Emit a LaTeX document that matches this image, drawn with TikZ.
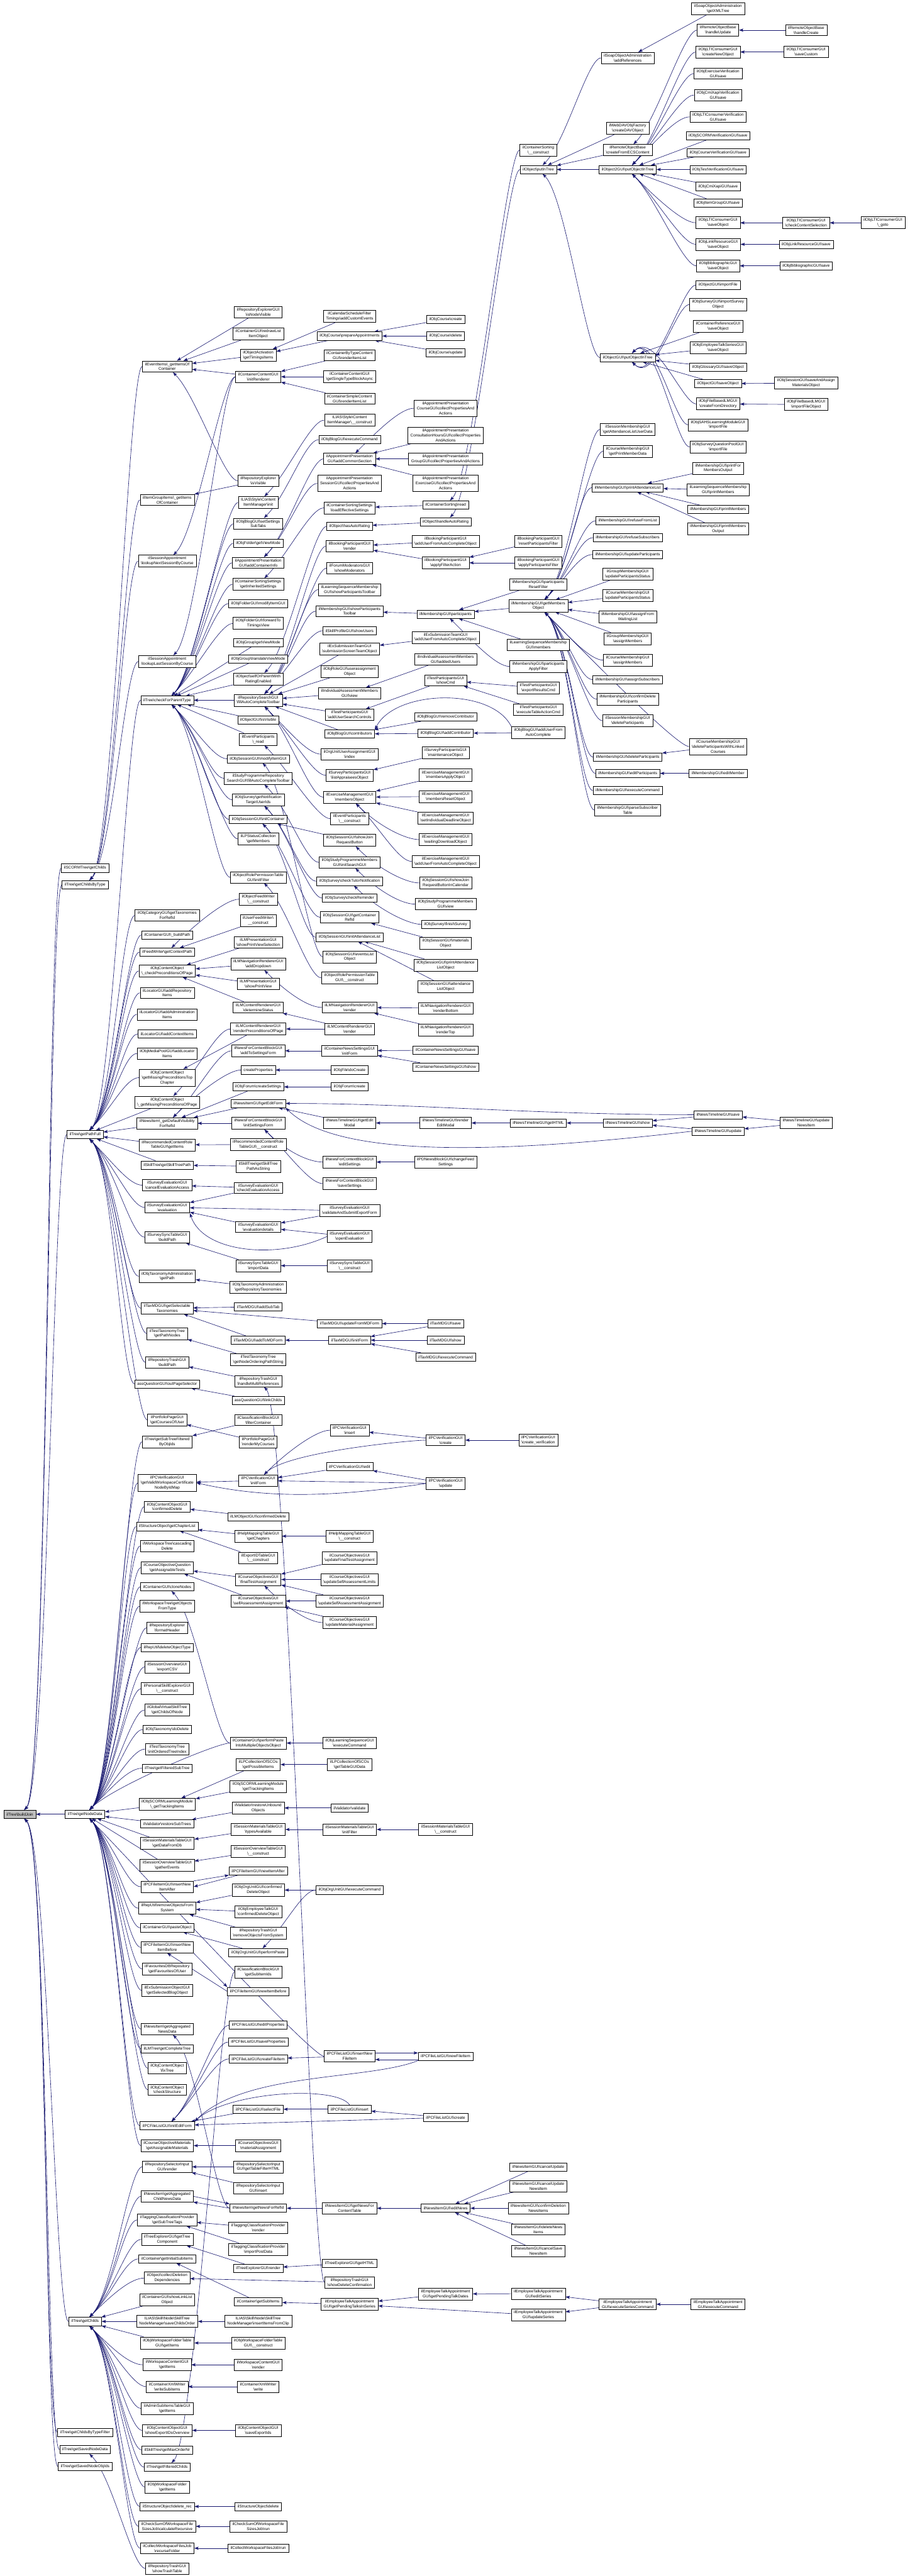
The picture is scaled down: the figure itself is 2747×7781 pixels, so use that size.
\documentclass[tikz,border=0pt]{standalone}
\usepackage{fontspec}
\setmainfont{Liberation Sans}
\usetikzlibrary{arrows.meta, backgrounds}
\definecolor{edgeblue}{RGB}{25,25,112}
\newcommand{\scp}{\textbackslash}

\begin{document}
\begin{tikzpicture}[
    x=0.25pt, y=0.25pt,
    font=\fontsize{3}{3.75}\selectfont,
    fn/.style  ={draw=black, fill=white, line width=0.3pt, align=center,
                 inner xsep=2pt, inner ysep=1.25pt, minimum height=6.25pt},
    root/.style={fn, fill=black!25},
    call/.style={draw=edgeblue, line width=0.3pt,
                 -{Stealth[length=3.2pt, width=2.3pt, inset=0.6pt]}},
    godown/.style={call, to path={(\tikztostart.west) .. controls
        ([shift={(-40,0)}]\tikztostart.west) and
        ([shift={(70,70)}]\tikztotarget.45) .. (\tikztotarget.45)}},
    goup/.style={call, to path={(\tikztostart.west) .. controls
        ([shift={(-40,0)}]\tikztostart.west) and
        ([shift={(70,-70)}]\tikztotarget.-45) .. (\tikztotarget.-45)}}
  ]
  \useasboundingbox (0,0) rectangle (2747,-7781);

  % ---- column 1 and 2: ilTree ----------------------------------------------
  \node[root] (buildJoin)      at (60,-5480)  {ilTree\scp buildJoin};
  \node[fn] (scormChilds)      at (257,-2622) {ilSCORMTree\scp getChilds};
  \node[fn] (childsByType)     at (257,-2672) {ilTree\scp getChildsByType};
  \node[fn] (pathFull)         at (257,-3427) {ilTree\scp getPathFull};
  \node[fn] (nodeData)         at (257,-5480) {ilTree\scp getNodeData};
  \node[fn] (getChilds)        at (257,-7012) {ilTree\scp getChilds};
  \node[fn] (childsByFilter)   at (257,-7347) {ilTree\scp getChildsByTypeFilter};
  \node[fn] (savedData)        at (257,-7399) {ilTree\scp getSavedNodeData};
  \node[fn] (savedObjIds)      at (257,-7450) {ilTree\scp getSavedNodeObjIds};

  % ---- column 3 ------------------------------------------------------------
  \node[fn] (eventItems)   at (505,-1107) {ilEventItems\scp \_getItemsOf\\Container};
  \node[fn] (itgrItems)    at (505,-1510) {ilItemGroupItems\scp \_getItems\\OfContainer};
  \node[fn] (sessNext)     at (505,-1695) {ilSessionAppointment\\\scp lookupNextSessionByCourse};
  \node[fn] (sessLast)     at (505,-1998) {ilSessionAppointment\\\scp lookupLastSessionByCourse};
  \node[fn] (checkParent)  at (505,-2115) {ilTree\scp checkForParentType};
  \node[fn] (catTax)       at (505,-2765) {ilObjCategoryGUI\scp getTaxonomies\\ForRefId};
  \node[fn] (buildPath)    at (505,-2824) {ilContainerGUI\scp \_buildPath};
  \node[fn] (feedPath)     at (505,-2876) {ilFeedWriter\scp getContextPath};
  \node[fn] (checkPrecond) at (505,-2933) {ilObjContentObject\\\scp \_checkPreconditionsOfPage};
  \node[fn] (locRepo)      at (505,-2999) {ilLocatorGUI\scp addRepository\\Items};
  \node[fn] (locAdmin)     at (505,-3064) {ilLocatorGUI\scp addAdministration\\Items};
  \node[fn] (locContext)   at (505,-3123) {ilLocatorGUI\scp addContextItems};
  \node[fn] (mepLocator)   at (505,-3182) {ilObjMediaPoolGUI\scp addLocator\\Items};
  \node[fn] (missingTop)   at (505,-3255) {ilObjContentObject\\\scp getMissingPreconditionsTop\\Chapter};
  \node[fn] (missingPage)  at (505,-3329) {ilObjContentObject\\\scp \_getMissingPreconditionsOfPage};
  \node[fn] (defaultVis)   at (505,-3393) {ilNewsItem\scp \_getDefaultVisibility\\ForRefId};
  \node[fn] (recItems)     at (505,-3458) {ilRecommendedContentRole\\TableGUI\scp getItems};
  \node[fn] (skillPath)    at (505,-3519) {ilSkillTree\scp getSkillTreePath};
  \node[fn] (evalCancel)   at (505,-3580) {ilSurveyEvaluationGUI\\\scp cancelEvaluationAccess};
  \node[fn] (evalEval)     at (505,-3647) {ilSurveyEvaluationGUI\\\scp evaluation};
  \node[fn] (syncPath)     at (505,-3737) {ilSurveySyncTableGUI\\\scp buildPath};
  \node[fn] (taxAdmPath)   at (505,-3855) {ilObjTaxonomyAdministration\\\scp getPath};
  \node[fn] (taxSelectable) at (505,-3952) {ilTaxMDGUI\scp getSelectable\\Taxonomies};
  \node[fn] (tstTaxPath)   at (505,-4028) {ilTestTaxonomyTree\\\scp getPathNodes};
  \node[fn] (trashPath)    at (505,-4115) {ilRepositoryTrashGUI\\\scp buildPath};
  \node[fn] (qstPageSel)   at (505,-4180) {assQuestionGUI\scp outPageSelector};
  \node[fn] (portCourses)  at (505,-4289) {ilPortfolioPageGUI\\\scp getCoursesOfUser};
  \node[fn] (subTreeFilt)  at (505,-4355) {ilTree\scp getSubTreeFiltered\\ByObjIds};
  \node[fn] (pcvValid)     at (505,-4479) {ilPCVerificationGUI\\\scp getValidWorkspaceCertificate\\NodeByIdMap};
  \node[fn] (lmConfDel)    at (505,-4551) {ilObjContentObjectGUI\\\scp confirmedDelete};
  \node[fn] (chapList)     at (505,-4611) {ilStructureObject\scp getChapterList};
  \node[fn] (wspCascade)   at (505,-4670) {ilWorkspaceTree\scp cascading\\Delete};
  \node[fn] (assignTests)  at (505,-4735) {ilCourseObjectiveQuestion\\\scp getAssignableTests};
  \node[fn] (cloneNodes)   at (505,-4793) {ilContainerGUI\scp cloneNodes};
  \node[fn] (wspObjects)   at (505,-4852) {ilWorkspaceTree\scp getObjects\\FromType};
  \node[fn] (explHeader)   at (505,-4917) {ilRepositoryExplorer\\\scp formatHeader};
  \node[fn] (delObjType)   at (505,-4976) {ilRepUtil\scp deleteObjectType};
  \node[fn] (sessExportCSV) at (505,-5035) {ilSessionOverviewGUI\\\scp exportCSV};
  \node[fn] (pskillCons)   at (505,-5101) {ilPersonalSkillExplorerGUI\\\scp \_\_construct};
  \node[fn] (vskillChilds) at (505,-5165) {ilGlobalVirtualSkillTree\\\scp getChildsOfNode};
  \node[fn] (taxDelete)    at (505,-5224) {ilObjTaxonomy\scp doDelete};
  \node[fn] (tstTaxIndex)  at (505,-5283) {ilTestTaxonomyTree\\\scp initOrderedTreeIndex};
  \node[fn] (filtSubTree)  at (505,-5341) {ilTree\scp getFilteredSubTree};
  \node[fn] (scormTrack)   at (505,-5450) {ilObjSCORMLearningModule\\\scp \_getTrackingItems};
  \node[fn] (restoreSub)   at (505,-5509) {ilValidator\scp restoreSubTrees};
  \node[fn] (matData)      at (505,-5568) {ilSessionMaterialsTableGUI\\\scp getDataFromDb};
  \node[fn] (ovGather)     at (505,-5634) {ilSessionOverviewTableGUI\\\scp gatherEvents};
  \node[fn] (insAfter)     at (505,-5699) {ilPCFileItemGUI\scp insertNew\\ItemAfter};
  \node[fn] (removeSys)    at (505,-5764) {ilRepUtil\scp removeObjectsFrom\\System};
  \node[fn] (pasteObj)     at (505,-5823) {ilContainerGUI\scp pasteObject};
  \node[fn] (insBefore)    at (505,-5882) {ilPCFileItemGUI\scp insertNew\\ItemBefore};
  \node[fn] (favourites)   at (505,-5947) {ilFavouritesDBRepository\\\scp getFavouritesOfUser};
  \node[fn] (excBlog)      at (505,-6012) {ilExSubmissionObjectGUI\\\scp getSelectedBlogObject};
  \node[fn] (aggrNews)     at (505,-6129) {ilNewsItem\scp getAggregated\\NewsData};
  \node[fn] (lmComplete)   at (505,-6188) {ilLMTree\scp getCompleteTree};
  \node[fn] (fixTree)      at (505,-6247) {ilObjContentObject\\\scp fixTree};
  \node[fn] (checkStruct)  at (505,-6312) {ilObjContentObject\\\scp checkStructure};
  \node[fn] (flInitEdit)   at (505,-6421) {ilPCFileListGUI\scp initEditForm};
  \node[fn] (objMaterials) at (505,-6481) {ilCourseObjectiveMaterials\\\scp getAssignableMaterials};
  \node[fn] (selRender)    at (505,-6545) {ilRepositorySelectorInput\\GUI\scp render};
  \node[fn] (aggrChild)    at (505,-6634) {ilNewsItem\scp getAggregated\\ChildNewsData};
  \node[fn] (tagSubTree)   at (505,-6705) {ilTaggingClassificationProvider\\\scp getSubTreeTags};
  \node[fn] (explTree)     at (505,-6764) {ilTreeExplorerGUI\scp getTree\\Component};
  \node[fn] (initSub)      at (505,-6823) {ilContainer\scp getInitialSubitems};
  \node[fn] (collectDel)   at (505,-6881) {ilObject\scp collectDeletion\\Dependencies};
  \node[fn] (linkList)     at (505,-6946) {ilContainerGUI\scp showLinkList\\Object};
  \node[fn] (saveChildsOrder) at (505,-7012) {ILIAS\scp Skill\scp Node\scp SkillTree\\NodeManager\scp saveChildsOrder};
  \node[fn] (wfolderItems) at (505,-7077) {ilObjWorkspaceFolderTable\\GUI\scp getItems};
  \node[fn] (wcontItems)   at (505,-7143) {ilWorkspaceContentGUI\\\scp getItems};
  \node[fn] (xmlSubitems)  at (505,-7209) {ilContainerXmlWriter\\\scp writeSubitems};
  \node[fn] (adminItems)   at (505,-7275) {ilAdminSubItemsTableGUI\\\scp getItems};
  \node[fn] (exportIDs)    at (505,-7341) {ilObjContentObjectGUI\\\scp showExportIDsOverview};
  \node[fn] (maxOrder)     at (505,-7400) {ilSkillTree\scp getMaxOrderNr};
  \node[fn] (filtChilds)   at (505,-7452) {ilTree\scp getFilteredChilds};
  \node[fn] (wfolderGet)   at (505,-7512) {ilObjWorkspaceFolder\\\scp getItems};
  \node[fn] (deleteRec)    at (505,-7571) {ilStructureObject\scp delete\_rec};
  \node[fn] (checksumCalc) at (505,-7631) {ilCheckSumOfWorkspaceFile\\SizesJob\scp calculateRecursive};
  \node[fn] (recurseFolder) at (505,-7697) {ilCollectWorkspaceFilesJob\\\scp recurseFolder};
  \node[fn] (trashTable)   at (505,-7758) {ilRepositoryTrashGUI\\\scp showTrashTable};

  % ---- column 4 ------------------------------------------------------------
  \node[fn] (explNodeVis)  at (780,-943)  {ilRepositoryExplorerGUI\\\scp isNodeVisible};
  \node[fn] (redrawItem)   at (780,-1009) {ilContainerGUI\scp redrawList\\ItemObject};
  \node[fn] (timingsItems) at (780,-1073) {ilObjectActivation\\\scp getTimingsItems};
  \node[fn] (initRenderer) at (780,-1138) {ilContainerContentGUI\\\scp initRenderer};
  \node[fn] (explIsVis)    at (780,-1452) {ilRepositoryExplorer\\\scp isVisible};
  \node[fn] (styleItemInit) at (780,-1518) {ILIAS\scp Style\scp Content\\ItemManager\scp init};
  \node[fn] (blogSubTabs)  at (780,-1582) {ilObjBlogGUI\scp setSettings\\SubTabs};
  \node[fn] (fldViewMode)  at (780,-1641) {ilObjFolder\scp getViewMode};
  \node[fn] (appContainer) at (780,-1700) {ilAppointmentPresentation\\GUI\scp addContainerInfo};
  \node[fn] (inherited)    at (780,-1765) {ilContainerSortingSettings\\\scp getInheritedSettings};
  \node[fn] (fldModify)    at (780,-1823) {ilObjFolderGUI\scp modifyItemGUI};
  \node[fn] (fldForward)   at (780,-1883) {ilObjFolderGUI\scp forwardTo\\TimingsView};
  \node[fn] (grpViewMode)  at (780,-1941) {ilObjGroup\scp getViewMode};
  \node[fn] (grpTranslate) at (780,-1991) {ilObjGroup\scp translateViewMode};
  \node[fn] (selfOrParent) at (780,-2051) {ilObject\scp selfOrParentWith\\RatingEnabled};
  \node[fn] (searchToolbar) at (780,-2115) {ilRepositorySearchGUI\\\scp fillAutoCompleteToolbar};
  \node[fn] (objIsVisible) at (780,-2175) {ilObjectGUI\scp isVisible};
  \node[fn] (evRead)       at (780,-2233) {ilEventParticipants\\\scp \_read};
  \node[fn] (sessModify)   at (780,-2292) {ilObjSessionGUI\scp modifyItemGUI};
  \node[fn] (prgSearch)    at (780,-2351) {ilStudyProgrammeRepository\\SearchGUI\scp fillAutoCompleteToolbar};
  \node[fn] (svyNotif)     at (780,-2416) {ilObjSurvey\scp getNotification\\TargetUserIds};
  \node[fn] (sessInitCont) at (780,-2475) {ilObjSessionGUI\scp initContainer};
  \node[fn] (lpMembers)    at (780,-2534) {ilLPStatusCollection\\\scp getMembers};
  \node[fn] (permFilter)   at (780,-2650) {ilObjectRolePermissionTable\\GUI\scp initFilter};
  \node[fn] (feedCons)     at (780,-2716) {ilObjectFeedWriter\\\scp \_\_construct};
  \node[fn] (userFeed)     at (780,-2781) {ilUserFeedWriter\scp \\\_\_construct};
  \node[fn] (lmPrintSel)   at (780,-2846) {ilLMPresentationGUI\\\scp showPrintViewSelection};
  \node[fn] (navDropdown)  at (780,-2912) {ilLMNavigationRendererGUI\\\scp addDropdown};
  \node[fn] (lmPrintView)  at (780,-2972) {ilLMPresentationGUI\\\scp showPrintView};
  \node[fn] (determineStatus) at (780,-3043) {ilLMContentRendererGUI\\\scp determineStatus};
  \node[fn] (renderPrecond) at (780,-3108) {ilLMContentRendererGUI\\\scp renderPreconditionsOfPage};
  \node[fn] (newsAddSettings) at (780,-3174) {ilNewsForContextBlockGUI\\\scp addToSettingsForm};
  \node[fn] (createProps)  at (780,-3232) {createProperties};
  \node[fn] (frmCreateSet) at (780,-3283) {ilObjForum\scp createSettings};
  \node[fn] (newsEditForm) at (780,-3333) {ilNewsItemGUI\scp getEditForm};
  \node[fn] (newsInitSettings) at (780,-3393) {ilNewsForContextBlockGUI\\\scp initSettingsForm};
  \node[fn] (recCons)      at (780,-3457) {ilRecommendedContentRole\\TableGUI\scp \_\_construct};
  \node[fn] (skillPathStr) at (780,-3523) {ilSkillTree\scp getSkillTree\\PathAsString};
  \node[fn] (evalCheck)    at (780,-3588) {ilSurveyEvaluationGUI\\\scp checkEvaluationAccess};
  \node[fn] (evalDetails)  at (780,-3706) {ilSurveyEvaluationGUI\\\scp evaluationdetails};
  \node[fn] (syncImport)   at (780,-3823) {ilSurveySyncTableGUI\\\scp importData};
  \node[fn] (taxAdmRepo)   at (780,-3888) {ilObjTaxonomyAdministration\\\scp getRepositoryTaxonomies};
  \node[fn] (taxSubTab)    at (780,-3947) {ilTaxMDGUI\scp addSubTab};
  \node[fn] (taxAddMD)     at (780,-4048) {ilTaxMDGUI\scp addToMDForm};
  \node[fn] (tstTaxOrder)  at (780,-4107) {ilTestTaxonomyTree\\\scp getNodeOrderingPathString};
  \node[fn] (trashMulti)   at (780,-4172) {ilRepositoryTrashGUI\\\scp handleMultiReferences};
  \node[fn] (qstLinkChilds) at (780,-4230) {assQuestionGUI\scp linkChilds};
  \node[fn] (classFilter)  at (780,-4289) {ilClassificationBlockGUI\\\scp filterContainer};
  \node[fn] (portRender)   at (780,-4355) {ilPortfolioPageGUI\\\scp renderMyCourses};
  \node[fn] (pcvInitForm)  at (780,-4472) {ilPCVerificationGUI\\\scp initForm};
  \node[fn] (lmObjConfDel) at (780,-4582) {ilLMObjectGUI\scp confirmedDelete};
  \node[fn] (helpChapters) at (780,-4640) {ilHelpMappingTableGUI\\\scp getChapters};
  \node[fn] (exportIDCons) at (780,-4706) {ilExportIDTableGUI\\\scp \_\_construct};
  \node[fn] (finalTest)    at (780,-4771) {ilCourseObjectivesGUI\\\scp finalTestAssignment};
  \node[fn] (selfAssign)   at (780,-4836) {ilCourseObjectivesGUI\\\scp selfAssessmentAssignment};
  \node[fn] (pasteMulti)   at (780,-5265) {ilContainerGUI\scp performPaste\\IntoMultipleObjectsObject};
  \node[fn] (scosPossible) at (780,-5330) {ilLPCollectionOfSCOs\\\scp getPossibleItems};
  \node[fn] (scormTrack2)  at (780,-5396) {ilObjSCORMLearningModule\\\scp getTrackingItems};
  \node[fn] (restoreUnbound) at (780,-5461) {ilValidator\scp restoreUnbound\\Objects};
  \node[fn] (typesAvail)   at (780,-5526) {ilSessionMaterialsTableGUI\\\scp typesAvailable};
  \node[fn] (ovCons)       at (780,-5592) {ilSessionOverviewTableGUI\\\scp \_\_construct};
  \node[fn] (newAfter)     at (780,-5651) {ilPCFileItemGUI\scp newItemAfter};
  \node[fn] (orguConfDel)  at (780,-5709) {ilObjOrgUnitGUI\scp confirmed\\DeleteObject};
  \node[fn] (talkConfDel)  at (780,-5775) {ilObjEmployeeTalkGUI\\\scp confirmedDeleteObject};
  \node[fn] (trashRemove)  at (780,-5840) {ilRepositoryTrashGUI\\\scp removeObjectsFromSystem};
  \node[fn] (orguPaste)    at (780,-5898) {ilObjOrgUnitGUI\scp performPaste};
  \node[fn] (classSubItems) at (780,-5957) {ilClassificationBlockGUI\\\scp getSubItemIds};
  \node[fn] (newBefore)    at (780,-6015) {ilPCFileItemGUI\scp newItemBefore};
  \node[fn] (flEditProps)  at (780,-6117) {ilPCFileListGUI\scp editProperties};
  \node[fn] (flSaveProps)  at (780,-6168) {ilPCFileListGUI\scp saveProperties};
  \node[fn] (flCreateItem) at (780,-6219) {ilPCFileListGUI\scp createFileItem};
  \node[fn] (flSelect)     at (780,-6371) {ilPCFileListGUI\scp selectFile};
  \node[fn] (matAssign)    at (780,-6481) {ilCourseObjectivesGUI\\\scp materialAssignment};
  \node[fn] (selFilter)    at (780,-6545) {ilRepositorySelectorInput\\GUI\scp getTableFilterHTML};
  \node[fn] (selInsert)    at (780,-6610) {ilRepositorySelectorInput\\GUI\scp insert};
  \node[fn] (newsForRef)   at (780,-6670) {ilNewsItem\scp getNewsForRefId};
  \node[fn] (tagRender)    at (780,-6729) {ilTaggingClassificationProvider\\\scp render};
  \node[fn] (tagImport)    at (780,-6794) {ilTaggingClassificationProvider\\\scp importPostData};
  \node[fn] (explRender)   at (780,-6852) {ilTreeExplorerGUI\scp render};
  \node[fn] (subItems)     at (780,-6953) {ilContainer\scp getSubItems};
  \node[fn] (insertClip)   at (780,-7012) {ILIAS\scp Skill\scp Node\scp SkillTree\\NodeManager\scp insertItemsFromClip};
  \node[fn] (wfolderCons)  at (780,-7077) {ilObjWorkspaceFolderTable\\GUI\scp \_\_construct};
  \node[fn] (wcontRender)  at (780,-7143) {ilWorkspaceContentGUI\\\scp render};
  \node[fn] (xmlWrite)     at (780,-7209) {ilContainerXmlWriter\\\scp write};
  \node[fn] (saveExportIDs) at (780,-7341) {ilObjContentObjectGUI\\\scp saveExportIds};
  \node[fn] (structDelete) at (780,-7571) {ilStructureObject\scp delete};
  \node[fn] (checksumRun)  at (780,-7631) {ilCheckSumOfWorkspaceFile\\SizesJob\scp run};
  \node[fn] (collectRun)   at (780,-7697) {ilCollectWorkspaceFilesJob\scp run};

  % ---- column 5 ------------------------------------------------------------
  \node[fn] (calAddEvents) at (1056,-956)  {ilCalendarScheduleFilter\\Timings\scp addCustomEvents};
  \node[fn] (crsPrepApp)   at (1056,-1015) {ilObjCourse\scp prepareAppointments};
  \node[fn] (byTypeRender) at (1056,-1073) {ilContainerByTypeContent\\GUI\scp renderItemList};
  \node[fn] (singleBlock)  at (1056,-1138) {ilContainerContentGUI\\\scp getSingleTypeBlockAsync};
  \node[fn] (simpleRender) at (1056,-1204) {ilContainerSimpleContent\\GUI\scp renderItemList};
  \node[fn] (styleItemCons) at (1056,-1269) {ILIAS\scp Style\scp Content\\ItemManager\scp \_\_construct};
  \node[fn] (blogExec)     at (1056,-1328) {ilObjBlogGUI\scp executeCommand};
  \node[fn] (appCommon)    at (1056,-1386) {ilAppointmentPresentation\\GUI\scp addCommonSection};
  \node[fn] (appSess)      at (1056,-1460) {ilAppointmentPresentation\\SessionGUI\scp collectPropertiesAnd\\Actions};
  \node[fn] (loadEffective) at (1056,-1534) {ilContainerSortingSettings\\\scp loadEffectiveSettings};
  \node[fn] (hasRating)    at (1056,-1590) {ilObject\scp hasAutoRating};
  \node[fn] (bookRender)   at (1056,-1650) {ilBookingParticipantGUI\\\scp render};
  \node[fn] (frmMods)      at (1056,-1716) {ilForumModeratorsGUI\\\scp showModerators};
  \node[fn] (lsoToolbar)   at (1056,-1781) {ilLearningSequenceMembership\\GUI\scp showParticipantsToolbar};
  \node[fn] (partsToolbar) at (1056,-1846) {ilMembershipGUI\scp showParticipants\\Toolbar};
  \node[fn] (sklUsers)     at (1056,-1905) {ilSkillProfileGUI\scp showUsers};
  \node[fn] (teamScreen)   at (1056,-1960) {ilExSubmissionTeamGUI\\\scp submissionScreenTeamObject};
  \node[fn] (roleAssign)   at (1056,-2029) {ilObjRoleGUI\scp userassignment\\Object};
  \node[fn] (iaView)       at (1056,-2094) {ilIndividualAssessmentMembers\\GUI\scp view};
  \node[fn] (tstSearchCtrl) at (1056,-2159) {ilTestParticipantsGUI\\\scp addUserSearchControls};
  \node[fn] (blogContrib)  at (1056,-2217) {ilObjBlogGUI\scp contributors};
  \node[fn] (orguIndex)    at (1056,-2278) {ilOrgUnitUserAssignmentGUI\\\scp index};
  \node[fn] (svyAppraisees) at (1056,-2342) {ilSurveyParticipantsGUI\\\scp listAppraiseesObject};
  \node[fn] (excMembers)   at (1056,-2408) {ilExerciseManagementGUI\\\scp membersObject};
  \node[fn] (evCons)       at (1056,-2473) {ilEventParticipants\\\scp \_\_construct};
  \node[fn] (sessJoinBtn)  at (1056,-2538) {ilObjSessionGUI\scp showJoin\\RequestButton};
  \node[fn] (prgInitSearch) at (1056,-2605) {ilObjStudyProgrammeMembers\\GUI\scp initSearchGUI};
  \node[fn] (svyTutor)     at (1056,-2662) {ilObjSurvey\scp checkTutorNotification};
  \node[fn] (svyReminder)  at (1056,-2713) {ilObjSurvey\scp checkReminder};
  \node[fn] (sessContRef)  at (1056,-2771) {ilObjSessionGUI\scp getContainer\\RefId};
  \node[fn] (sessInitAtt)  at (1056,-2831) {ilObjSessionGUI\scp initAttendanceList};
  \node[fn] (sessEvents)   at (1056,-2890) {ilObjSessionGUI\scp eventsList\\Object};
  \node[fn] (permCons)     at (1056,-2954) {ilObjectRolePermissionTable\\GUI\scp \_\_construct};
  \node[fn] (navRender)    at (1056,-3043) {ilLMNavigationRendererGUI\\\scp render};
  \node[fn] (contentRender) at (1056,-3108) {ilLMContentRendererGUI\\\scp render};
  \node[fn] (newsInitForm) at (1056,-3174) {ilContainerNewsSettingsGUI\\\scp initForm};
  \node[fn] (fileCreate)   at (1056,-3232) {ilObjFile\scp doCreate};
  \node[fn] (frmCreate)    at (1056,-3283) {ilObjForum\scp create};
  \node[fn] (tlEditModal)  at (1056,-3392) {ilNewsTimelineGUI\scp getEdit\\Modal};
  \node[fn] (newsEditSet)  at (1056,-3510) {ilNewsForContextBlockGUI\\\scp editSettings};
  \node[fn] (newsSaveSet)  at (1056,-3575) {ilNewsForContextBlockGUI\\\scp saveSettings};
  \node[fn] (evalExport)   at (1056,-3657) {ilSurveyEvaluationGUI\\\scp validateAndSubmitExportForm};
  \node[fn] (evalOpen)     at (1056,-3735) {ilSurveyEvaluationGUI\\\scp openEvaluation};
  \node[fn] (syncCons)     at (1056,-3823) {ilSurveySyncTableGUI\\\scp \_\_construct};
  \node[fn] (taxUpdMD)     at (1056,-3998) {ilTaxMDGUI\scp updateFromMDForm};
  \node[fn] (taxInitForm)  at (1056,-4048) {ilTaxMDGUI\scp initForm};
  \node[fn] (pcvInsert)    at (1056,-4320) {ilPCVerificationGUI\\\scp insert};
  \node[fn] (pcvEdit)      at (1056,-4430) {ilPCVerificationGUI\scp edit};
  \node[fn] (helpCons)     at (1056,-4640) {ilHelpMappingTableGUI\\\scp \_\_construct};
  \node[fn] (updFinalTest) at (1056,-4706) {ilCourseObjectivesGUI\\\scp updateFinalTestAssignment};
  \node[fn] (updSelfLimits) at (1056,-4771) {ilCourseObjectivesGUI\\\scp updateSelfAssessmentLimits};
  \node[fn] (updSelfAssign) at (1056,-4836) {ilCourseObjectivesGUI\\\scp updateSelfAssessmentAssignment};
  \node[fn] (updMaterial)  at (1056,-4901) {ilCourseObjectivesGUI\\\scp updateMaterialAssignment};
  \node[fn] (lsoExec)      at (1056,-5265) {ilObjLearningSequenceGUI\\\scp executeCommand};
  \node[fn] (scosTable)    at (1056,-5330) {ilLPCollectionOfSCOs\\\scp getTableGUIData};
  \node[fn] (validate)     at (1056,-5461) {ilValidator\scp validate};
  \node[fn] (matFilter)    at (1056,-5526) {ilSessionMaterialsTableGUI\\\scp initFilter};
  \node[fn] (orguExec)     at (1056,-5709) {ilObjOrgUnitGUI\scp executeCommand};
  \node[fn] (flInsNewItem) at (1056,-6211) {ilPCFileListGUI\scp insertNew\\FileItem};
  \node[fn] (flInsert)     at (1056,-6371) {ilPCFileListGUI\scp insert};
  \node[fn] (newsContTable) at (1056,-6670) {ilNewsItemGUI\scp getNewsFor\\ContentTable};
  \node[fn] (explHTML)     at (1056,-6836) {ilTreeExplorerGUI\scp getHTML};
  \node[fn] (trashConfirm) at (1056,-6894) {ilRepositoryTrashGUI\\\scp showDeleteConfirmation};
  \node[fn] (pendingSeries) at (1056,-6960) {ilEmployeeTalkAppointment\\GUI\scp getPendingTalksInSeries};

  % ---- column 6 ------------------------------------------------------------
  \node[fn] (crsCreate)    at (1346,-964)  {ilObjCourse\scp create};
  \node[fn] (crsDelete)    at (1346,-1015) {ilObjCourse\scp delete};
  \node[fn] (crsUpdate)    at (1346,-1065) {ilObjCourse\scp update};
  \node[fn] (appCrs)       at (1346,-1233) {ilAppointmentPresentation\\CourseGUI\scp collectPropertiesAnd\\Actions};
  \node[fn] (appConsult)   at (1346,-1315) {ilAppointmentPresentation\\ConsultationHoursGUI\scp collectProperties\\AndActions};
  \node[fn] (appGroup)     at (1346,-1386) {ilAppointmentPresentation\\GroupGUI\scp collectPropertiesAndActions};
  \node[fn] (appExc)       at (1346,-1460) {ilAppointmentPresentation\\ExerciseGUI\scp collectPropertiesAnd\\Actions};
  \node[fn] (sortRead)     at (1346,-1525) {ilContainerSorting\scp read};
  \node[fn] (handleRating) at (1346,-1576) {ilObject\scp handleAutoRating};
  \node[fn] (bookAddUser)  at (1346,-1635) {ilBookingParticipantGUI\\\scp addUserFromAutoCompleteObject};
  \node[fn] (bookApply)    at (1346,-1700) {ilBookingParticipantGUI\\\scp applyFilterAction};
  \node[fn] (participants) at (1346,-1855) {ilMembershipGUI\scp participants};
  \node[fn] (teamAddUser)  at (1346,-1925) {ilExSubmissionTeamGUI\\\scp addUserFromAutoCompleteObject};
  \node[fn] (iaAdded)      at (1346,-1991) {ilIndividualAssessmentMembers\\GUI\scp addedUsers};
  \node[fn] (tstShowCmd)   at (1346,-2055) {ilTestParticipantsGUI\\\scp showCmd};
  \node[fn] (blogRemove)   at (1346,-2166) {ilObjBlogGUI\scp removeContributor};
  \node[fn] (blogAdd)      at (1346,-2215) {ilObjBlogGUI\scp addContributor};
  \node[fn] (svyMaint)     at (1346,-2274) {ilSurveyParticipantsGUI\\\scp maintenanceObject};
  \node[fn] (excApply)     at (1346,-2341) {ilExerciseManagementGUI\\\scp membersApplyObject};
  \node[fn] (excReset)     at (1346,-2406) {ilExerciseManagementGUI\\\scp membersResetObject};
  \node[fn] (excDeadline)  at (1346,-2471) {ilExerciseManagementGUI\\\scp setIndividualDeadlineObject};
  \node[fn] (excWaiting)   at (1346,-2536) {ilExerciseManagementGUI\\\scp waitingDownloadObject};
  \node[fn] (excAddUser)   at (1346,-2602) {ilExerciseManagementGUI\\\scp addUserFromAutoCompleteObject};
  \node[fn] (sessJoinCal)  at (1346,-2667) {ilObjSessionGUI\scp showJoin\\RequestButtonInCalendar};
  \node[fn] (prgView)      at (1346,-2731) {ilObjStudyProgrammeMembers\\GUI\scp view};
  \node[fn] (svyFinish)    at (1346,-2792) {ilObjSurvey\scp finishSurvey};
  \node[fn] (sessMaterials) at (1346,-2849) {ilObjSessionGUI\scp materials\\Object};
  \node[fn] (sessPrintAtt) at (1346,-2915) {ilObjSessionGUI\scp printAttendance\\ListObject};
  \node[fn] (sessAttList)  at (1346,-2980) {ilObjSessionGUI\scp attendance\\ListObject};
  \node[fn] (navBottom)    at (1346,-3045) {ilLMNavigationRendererGUI\\\scp renderBottom};
  \node[fn] (navTop)       at (1346,-3111) {ilLMNavigationRendererGUI\\\scp renderTop};
  \node[fn] (newsSetSave)  at (1346,-3172) {ilContainerNewsSettingsGUI\scp save};
  \node[fn] (newsSetShow)  at (1346,-3223) {ilContainerNewsSettingsGUI\scp show};
  \node[fn] (tlRenderModal) at (1346,-3392) {ilNewsTimelineGUI\scp render\\EditModal};
  \node[fn] (pdNewsFeed)   at (1346,-3510) {ilPDNewsBlockGUI\scp changeFeed\\Settings};
  \node[fn] (taxSave)      at (1346,-3998) {ilTaxMDGUI\scp save};
  \node[fn] (taxShow)      at (1346,-4048) {ilTaxMDGUI\scp show};
  \node[fn] (taxExec)      at (1346,-4099) {ilTaxMDGUI\scp executeCommand};
  \node[fn] (pcvCreate)    at (1346,-4350) {ilPCVerificationGUI\\\scp create};
  \node[fn] (pcvUpdate)    at (1346,-4481) {ilPCVerificationGUI\\\scp update};
  \node[fn] (matCons)      at (1346,-5526) {ilSessionMaterialsTableGUI\\\scp \_\_construct};
  \node[fn] (flNewItem)    at (1346,-6211) {ilPCFileListGUI\scp newFileItem};
  \node[fn] (flCreate)     at (1346,-6396) {ilPCFileListGUI\scp create};
  \node[fn] (editNews)     at (1346,-6670) {ilNewsItemGUI\scp editNews};
  \node[fn] (pendingDates) at (1346,-6929) {ilEmployeeTalkAppointment\\GUI\scp getPendingTalkDates};

  % ---- column 7 ------------------------------------------------------------
  \node[fn] (sortCons)     at (1626,-453)  {ilContainerSorting\\\scp \_\_construct};
  \node[fn] (putInTree)    at (1626,-512)  {ilObject\scp putInTree};
  \node[fn] (bookReset)    at (1626,-1635) {ilBookingParticipantGUI\\\scp resetParticipantsFilter};
  \node[fn] (bookApplyPF)  at (1626,-1700) {ilBookingParticipantGUI\\\scp applyParticipantsFilter};
  \node[fn] (partsReset)   at (1626,-1765) {ilMembershipGUI\scp participants\\ResetFilter};
  \node[fn] (getMembers)   at (1626,-1830) {ilMembershipGUI\scp getMembers\\Object};
  \node[fn] (lsoMembers)   at (1626,-1948) {ilLearningSequenceMembership\\GUI\scp members};
  \node[fn] (partsApply)   at (1626,-2013) {ilMembershipGUI\scp participants\\ApplyFilter};
  \node[fn] (tstExport)    at (1626,-2078) {ilTestParticipantsGUI\\\scp exportResultsCmd};
  \node[fn] (tstTableCmd)  at (1626,-2144) {ilTestParticipantsGUI\\\scp executeTableActionCmd};
  \node[fn] (blogAddAuto)  at (1626,-2213) {ilObjBlogGUI\scp addUserFrom\\AutoComplete};
  \node[fn] (tlHTML)       at (1626,-3392) {ilNewsTimelineGUI\scp getHTML};
  \node[fn] (pcvCreateV)   at (1626,-4350) {ilPCVerificationGUI\\\scp create\_verification};
  \node[fn] (cancelUpd)    at (1626,-6545) {ilNewsItemGUI\scp cancelUpdate};
  \node[fn] (cancelUpdItem) at (1626,-6604) {ilNewsItemGUI\scp cancelUpdate\\NewsItem};
  \node[fn] (confDelNews)  at (1626,-6670) {ilNewsItemGUI\scp confirmDeletion\\NewsItems};
  \node[fn] (delNews)      at (1626,-6734) {ilNewsItemGUI\scp deleteNews\\Items};
  \node[fn] (cancelSave)   at (1626,-6800) {ilNewsItemGUI\scp cancelSave\\NewsItem};
  \node[fn] (editSeries)   at (1626,-6928) {ilEmployeeTalkAppointment\\GUI\scp editSeries};
  \node[fn] (updSeries)    at (1626,-6993) {ilEmployeeTalkAppointment\\GUI\scp updateSeries};

  % ---- column 8 ------------------------------------------------------------
  \node[fn] (soapAddRef)   at (1896,-175)  {ilSoapObjectAdministration\\\scp addReferences};
  \node[fn] (webdav)       at (1896,-388)  {ilWebDAVObjFactory\\\scp createDAVObject};
  \node[fn] (remECS)       at (1896,-453)  {ilRemoteObjectBase\\\scp createFromECSContent};
  \node[fn] (obj2Put)      at (1896,-512)  {ilObject2GUI\scp putObjectInTree};
  \node[fn] (objGUIPut)    at (1896,-1080) {ilObjectGUI\scp putObjectInTree};
  \node[fn] (sessAttData)  at (1896,-1297) {ilSessionMembershipGUI\\\scp getAttendanceListUserData};
  \node[fn] (crsPrintData) at (1896,-1363) {ilCourseMembershipGUI\\\scp getPrintMemberData};
  \node[fn] (printAttList) at (1896,-1473) {ilMembershipGUI\scp printAttendanceList};
  \node[fn] (refuseList)   at (1896,-1573) {ilMembershipGUI\scp refuseFromList};
  \node[fn] (refuseSubs)   at (1896,-1624) {ilMembershipGUI\scp refuseSubscribers};
  \node[fn] (updateParts)  at (1896,-1675) {ilMembershipGUI\scp updateParticipants};
  \node[fn] (grpUpdStatus) at (1896,-1734) {ilGroupMembershipGUI\\\scp updateParticipantsStatus};
  \node[fn] (crsUpdStatus) at (1896,-1799) {ilCourseMembershipGUI\\\scp updateParticipantsStatus};
  \node[fn] (assignWait)   at (1896,-1864) {ilMembershipGUI\scp assignFrom\\WaitingList};
  \node[fn] (grpAssign)    at (1896,-1929) {ilGroupMembershipGUI\\\scp assignMembers};
  \node[fn] (crsAssign)    at (1896,-1994) {ilCourseMembershipGUI\\\scp assignMembers};
  \node[fn] (assignSubs)   at (1896,-2053) {ilMembershipGUI\scp assignSubscribers};
  \node[fn] (confirmDel)   at (1896,-2112) {ilMembershipGUI\scp confirmDelete\\Participants};
  \node[fn] (sessDelete)   at (1896,-2177) {ilSessionMembershipGUI\\\scp deleteParticipants};
  \node[fn] (deleteParts)  at (1896,-2287) {ilMembershipGUI\scp deleteParticipants};
  \node[fn] (editParts)    at (1896,-2336) {ilMembershipGUI\scp editParticipants};
  \node[fn] (membExec)     at (1896,-2388) {ilMembershipGUI\scp executeCommand};
  \node[fn] (parseSubs)    at (1896,-2447) {ilMembershipGUI\scp parseSubscriber\\Table};
  \node[fn] (tlShow)       at (1896,-3392) {ilNewsTimelineGUI\scp show};
  \node[fn] (seriesCmd)    at (1896,-6960) {ilEmployeeTalkAppointment\\GUI\scp executeSeriesCommand};

  % ---- column 9 to 11 --------------------------------------------------------
  \node[fn] (soapXML)      at (2169,-26)   {ilSoapObjectAdministration\\\scp getXMLTree};
  \node[fn] (remUpd)       at (2169,-91)   {ilRemoteObjectBase\\\scp handleUpdate};
  \node[fn] (ltiCreateNew) at (2169,-157)  {ilObjLTIConsumerGUI\\\scp createNewObject};
  \node[fn] (excVerif)     at (2169,-222)  {ilObjExerciseVerification\\GUI\scp save};
  \node[fn] (cmiVerif)     at (2169,-287)  {ilObjCmiXapiVerification\\GUI\scp save};
  \node[fn] (ltiVerif)     at (2169,-353)  {ilObjLTIConsumerVerification\\GUI\scp save};
  \node[fn] (scormVerif)   at (2169,-410)  {ilObjSCORMVerificationGUI\scp save};
  \node[fn] (crsVerif)     at (2169,-461)  {ilObjCourseVerificationGUI\scp save};
  \node[fn] (tstVerif)     at (2169,-512)  {ilObjTestVerificationGUI\scp save};
  \node[fn] (cmiSave)      at (2169,-563)  {ilObjCmiXapiGUI\scp save};
  \node[fn] (itgrSave)     at (2169,-613)  {ilObjItemGroupGUI\scp save};
  \node[fn] (ltiSaveObj)   at (2169,-673)  {ilObjLTIConsumerGUI\\\scp saveObject};
  \node[fn] (webrSaveObj)  at (2169,-738)  {ilObjLinkResourceGUI\\\scp saveObject};
  \node[fn] (biblSaveObj)  at (2169,-803)  {ilObjBibliographicGUI\\\scp saveObject};
  \node[fn] (importFile)   at (2169,-861)  {ilObjectGUI\scp importFile};
  \node[fn] (svyImport)    at (2169,-920)  {ilObjSurveyGUI\scp importSurvey\\Object};
  \node[fn] (refSaveObj)   at (2169,-985)  {ilContainerReferenceGUI\\\scp saveObject};
  \node[fn] (etalSaveObj)  at (2169,-1051) {ilObjEmployeeTalkSeriesGUI\\\scp saveObject};
  \node[fn] (gloSaveObj)   at (2169,-1109) {ilObjGlossaryGUI\scp saveObject};
  \node[fn] (objGUISave)   at (2169,-1159) {ilObjectGUI\scp saveObject};
  \node[fn] (flmCreateDir) at (2169,-1220) {ilObjFileBasedLMGUI\\\scp createFromDirectory};
  \node[fn] (sahsImport)   at (2169,-1283) {ilObjSAHSLearningModuleGUI\\\scp importFile};
  \node[fn] (qplImport)    at (2169,-1350) {ilObjSurveyQuestionPoolGUI\\\scp importFile};
  \node[fn] (printForOut)  at (2169,-1414) {ilMembershipGUI\scp printFor\\MembersOutput};
  \node[fn] (lsoPrint)     at (2169,-1480) {ilLearningSequenceMembership\\GUI\scp printMembers};
  \node[fn] (printMembers) at (2169,-1539) {ilMembershipGUI\scp printMembers};
  \node[fn] (printMembersOut) at (2169,-1597) {ilMembershipGUI\scp printMembers\\Output};
  \node[fn] (crsDelLinked) at (2169,-2255) {ilCourseMembershipGUI\\\scp deleteParticipantsWithLinked\\Courses};
  \node[fn] (editMember)   at (2169,-2336) {ilMembershipGUI\scp editMember};
  \node[fn] (tlSave)       at (2169,-3367) {ilNewsTimelineGUI\scp save};
  \node[fn] (tlUpdate)     at (2169,-3417) {ilNewsTimelineGUI\scp update};
  \node[fn] (talkExec)     at (2169,-6960) {ilEmployeeTalkAppointment\\GUI\scp executeCommand};

  \node[fn] (remCreate)    at (2435,-91)   {ilRemoteObjectBase\\\scp handleCreate};
  \node[fn] (ltiSaveCustom) at (2435,-157) {ilObjLTIConsumerGUI\\\scp saveCustom};
  \node[fn] (ltiCheck)     at (2435,-673)  {ilObjLTIConsumerGUI\\\scp checkContentSelection};
  \node[fn] (webrSave)     at (2435,-738)  {ilObjLinkResourceGUI\scp save};
  \node[fn] (biblSave)     at (2435,-803)  {ilObjBibliographicGUI\scp save};
  \node[fn] (sessSaveAssign) at (2435,-1157) {ilObjSessionGUI\scp saveAndAssign\\MaterialsObject};
  \node[fn] (flmImport)    at (2435,-1222) {ilObjFileBasedLMGUI\\\scp importFileObject};
  \node[fn] (tlUpdateItem) at (2435,-3392) {ilNewsTimelineGUI\scp update\\NewsItem};
  \node[fn] (ltiGoto)      at (2667,-673)  {ilObjLTIConsumerGUI\\\scp \_goto};

  \begin{pgfonlayer}{background}
  % ---- into ilTree::buildJoin ------------------------------------------------
  \draw[call] (nodeData) -- (buildJoin);
  \draw[godown] (scormChilds) to (buildJoin);
  \draw[godown] (childsByType) to (buildJoin);
  \draw[godown] (pathFull) to (buildJoin);
  \draw[goup] (getChilds) to (buildJoin);
  \draw[goup] (childsByFilter) to (buildJoin);
  \draw[goup] (savedData) to (buildJoin);
  \draw[goup] (savedObjIds) to (buildJoin);

  % ---- object creation, top right ---------------------------------------------
  \draw[call] (remCreate) -- (remUpd);
  \draw[godown] (remUpd) to (remECS);
  \draw[call] (soapXML) -- (soapAddRef);
  \draw[call] (ltiSaveCustom) -- (ltiCreateNew);
  \draw[godown] (ltiCreateNew) to (obj2Put);
  \draw[godown] (excVerif) to (obj2Put);
  \draw[godown] (cmiVerif) to (obj2Put);
  \draw[godown] (ltiVerif) to (obj2Put);
  \draw[call] (scormVerif) -- (obj2Put);
  \draw[call] (crsVerif) -- (obj2Put);
  \draw[call] (tstVerif) -- (obj2Put);
  \draw[call] (cmiSave) -- (obj2Put);
  \draw[call] (itgrSave) -- (obj2Put);
  \draw[goup] (ltiSaveObj) to (obj2Put);
  \draw[goup] (webrSaveObj) to (obj2Put);
  \draw[goup] (biblSaveObj) to (obj2Put);
  \draw[call] (ltiGoto) -- (ltiCheck);
  \draw[call] (ltiCheck) -- (ltiSaveObj);
  \draw[call] (webrSave) -- (webrSaveObj);
  \draw[call] (biblSave) -- (biblSaveObj);
  \draw[godown] (soapAddRef) to (putInTree);
  \draw[call] (webdav) -- (putInTree);
  \draw[call] (remECS) -- (putInTree);
  \draw[call] (obj2Put) -- (putInTree);
  \draw[goup] (objGUIPut) to (putInTree);
  \draw[goup] (importFile) to (objGUIPut);
  \draw[goup] (svyImport) to (objGUIPut);
  \draw[call] (refSaveObj) -- (objGUIPut);
  \draw[call] (etalSaveObj) -- (objGUIPut);
  \draw[call] (gloSaveObj) -- (objGUIPut);
  \draw[call] (objGUISave) -- (objGUIPut);
  \draw[godown] (flmCreateDir) to (objGUIPut);
  \draw[godown] (sahsImport) to (objGUIPut);
  \draw[godown] (qplImport) to (objGUIPut);
  \draw[call] (sessSaveAssign) -- (objGUISave);
  \draw[call] (flmImport) -- (flmCreateDir);

  % ---- sorting and rating -------------------------------------------------------
  \draw[godown] (sortCons) to (sortRead);
  \draw[godown] (putInTree) to (handleRating);
  \draw[call] (handleRating) -- (hasRating);
  \draw[godown] (hasRating) to (selfOrParent);
  \draw[call] (sortRead) -- (loadEffective);
  \draw[godown] (loadEffective) to (inherited);

  % ---- course, container content, sessions -----------------------------------
  \draw[call] (crsCreate) -- (crsPrepApp);
  \draw[call] (crsDelete) -- (crsPrepApp);
  \draw[call] (crsUpdate) -- (crsPrepApp);
  \draw[call] (calAddEvents) -- (timingsItems);
  \draw[call] (crsPrepApp) -- (timingsItems);
  \draw[call] (timingsItems) -- (eventItems);
  \draw[call] (redrawItem) -- (eventItems);
  \draw[call] (explNodeVis) -- (eventItems);
  \draw[call] (initRenderer) -- (eventItems);
  \draw[call] (byTypeRender) -- (initRenderer);
  \draw[call] (singleBlock) -- (initRenderer);
  \draw[call] (simpleRender) -- (initRenderer);
  \draw[goup] (explIsVis) to (eventItems);
  \draw[call] (explIsVis) -- (itgrItems);
  \draw[godown] (initRenderer) to (sessNext);
  \draw[godown] (initRenderer) to (sessLast);
  \draw[godown] (eventItems) to (childsByType);
  \draw[godown] (itgrItems) to (childsByType);
  \draw[godown] (sessNext) to (childsByType);
  \draw[godown] (sessLast) to (childsByType);
  \draw[godown] (styleItemCons) to (styleItemInit);
  \draw[godown] (styleItemInit) to (checkParent);
  \draw[godown] (blogExec) to (blogSubTabs);
  \draw[godown] (appCrs) to (appCommon);
  \draw[call] (appConsult) -- (appCommon);
  \draw[call] (appGroup) -- (appCommon);
  \draw[call] (appExc) -- (appCommon);
  \draw[godown] (appCommon) to (appContainer);
  \draw[godown] (appSess) to (appContainer);

  % ---- into ilTree::checkForParentType ---------------------------------------
  \draw[godown] (blogSubTabs) to (checkParent);
  \draw[godown] (fldViewMode) to (checkParent);
  \draw[godown] (appContainer) to (checkParent);
  \draw[godown] (inherited) to (checkParent);
  \draw[godown] (fldModify) to (checkParent);
  \draw[godown] (fldForward) to (checkParent);
  \draw[call] (grpViewMode) -- (checkParent);
  \draw[call] (grpTranslate) -- (checkParent);
  \draw[call] (selfOrParent) -- (checkParent);
  \draw[call] (searchToolbar) -- (checkParent);
  \draw[call] (objIsVisible) -- (checkParent);
  \draw[call] (evRead) -- (checkParent);
  \draw[goup] (sessModify) to (checkParent);
  \draw[goup] (prgSearch) to (checkParent);
  \draw[goup] (svyNotif) to (checkParent);
  \draw[goup] (sessInitCont) to (checkParent);
  \draw[goup] (lpMembers) to (checkParent);
  \draw[goup] (permFilter) to (checkParent);
  \draw[godown] (checkParent) to (pathFull);

  % ---- membership ------------------------------------------------------------
  \draw[godown] (sessAttData) to (getMembers);
  \draw[godown] (crsPrintData) to (getMembers);
  \draw[godown] (printAttList) to (getMembers);
  \draw[godown] (refuseList) to (getMembers);
  \draw[godown] (refuseSubs) to (getMembers);
  \draw[godown] (updateParts) to (getMembers);
  \draw[call] (grpUpdStatus) -- (getMembers);
  \draw[call] (crsUpdStatus) -- (getMembers);
  \draw[call] (assignWait) -- (getMembers);
  \draw[call] (grpAssign) -- (getMembers);
  \draw[goup] (crsAssign) to (getMembers);
  \draw[goup] (assignSubs) to (getMembers);
  \draw[goup] (confirmDel) to (getMembers);
  \draw[goup] (sessDelete) to (getMembers);
  \draw[goup] (deleteParts) to (getMembers);
  \draw[goup] (editParts) to (getMembers);
  \draw[goup] (membExec) to (getMembers);
  \draw[goup] (parseSubs) to (getMembers);
  \draw[call] (printForOut) -- (printAttList);
  \draw[call] (lsoPrint) -- (printAttList);
  \draw[call] (printMembers) -- (printAttList);
  \draw[call] (printMembersOut) -- (printAttList);
  \draw[call] (crsDelLinked) -- (deleteParts);
  \draw[goup] (crsDelLinked) to (getMembers);
  \draw[call] (editMember) -- (editParts);
  \draw[call] (getMembers) -- (participants);
  \draw[call] (partsReset) -- (participants);
  \draw[call] (lsoMembers) -- (participants);
  \draw[goup] (partsApply) to (participants);
  \draw[call] (participants) -- (partsToolbar);

  % ---- into ilRepositorySearchGUI::fillAutoCompleteToolbar ---------------------
  \draw[godown] (partsToolbar) to (searchToolbar);
  \draw[godown] (bookRender) to (searchToolbar);
  \draw[godown] (frmMods) to (searchToolbar);
  \draw[godown] (lsoToolbar) to (searchToolbar);
  \draw[godown] (sklUsers) to (searchToolbar);
  \draw[call] (teamScreen) -- (searchToolbar);
  \draw[call] (roleAssign) -- (searchToolbar);
  \draw[call] (iaView) -- (searchToolbar);
  \draw[call] (tstSearchCtrl) -- (searchToolbar);
  \draw[call] (blogContrib) -- (searchToolbar);
  \draw[goup] (orguIndex) to (searchToolbar);
  \draw[goup] (svyAppraisees) to (searchToolbar);
  \draw[goup] (excMembers) to (searchToolbar);
  \draw[call] (bookAddUser) -- (bookRender);
  \draw[call] (bookApply) -- (bookRender);
  \draw[call] (bookReset) -- (bookApply);
  \draw[call] (bookApplyPF) -- (bookApply);
  \draw[call] (teamAddUser) -- (teamScreen);
  \draw[call] (iaAdded) -- (iaView);
  \draw[call] (tstShowCmd) -- (tstSearchCtrl);
  \draw[call] (tstExport) -- (tstShowCmd);
  \draw[call] (tstTableCmd) -- (tstShowCmd);
  \draw[call] (blogRemove) -- (blogContrib);
  \draw[call] (blogAdd) -- (blogContrib);
  \draw[call] (blogAddAuto) -- (blogAdd);
  \draw[call] (blogAddAuto.north west) .. controls ([shift={(-60,120)}]blogAddAuto.north west)
      and ([shift={(60,120)}]blogContrib.north east) .. (blogContrib.north east);
  \draw[call] (svyMaint) -- (svyAppraisees);
  \draw[call] (excApply) -- (excMembers);
  \draw[call] (excReset) -- (excMembers);
  \draw[call] (excDeadline) -- (excMembers);
  \draw[goup] (excWaiting) to (excMembers);
  \draw[goup] (excAddUser) to (excMembers);

  % ---- sessions, survey, events --------------------------------------------
  \draw[goup] (evCons) to (evRead);
  \draw[goup] (prgInitSearch) to (prgSearch);
  \draw[call] (sessJoinBtn) -- (sessInitCont);
  \draw[goup] (sessContRef) to (sessInitCont);
  \draw[goup] (sessInitAtt) to (sessInitCont);
  \draw[goup] (sessEvents) to (sessModify);
  \draw[goup] (svyTutor) to (svyNotif);
  \draw[goup] (svyReminder) to (svyNotif);
  \draw[goup] (permCons) to (permFilter);
  \draw[goup] (sessJoinCal) to (sessJoinBtn);
  \draw[goup] (prgView) to (prgInitSearch);
  \draw[goup] (svyFinish) to (svyTutor);
  \draw[call] (sessMaterials) -- (sessContRef);
  \draw[call] (sessPrintAtt) -- (sessInitAtt);
  \draw[call] (sessAttList) -- (sessInitAtt);

  % ---- into ilTree::getPathFull ----------------------------------------------
  \draw[godown] (catTax) to (pathFull);
  \draw[godown] (buildPath) to (pathFull);
  \draw[godown] (feedPath) to (pathFull);
  \draw[godown] (checkPrecond) to (pathFull);
  \draw[godown] (locRepo) to (pathFull);
  \draw[godown] (locAdmin) to (pathFull);
  \draw[godown] (locContext) to (pathFull);
  \draw[godown] (mepLocator) to (pathFull);
  \draw[godown] (missingTop) to (pathFull);
  \draw[call] (missingPage) -- (pathFull);
  \draw[call] (defaultVis) -- (pathFull);
  \draw[call] (recItems) -- (pathFull);
  \draw[call] (skillPath) -- (pathFull);
  \draw[goup] (evalCancel) to (pathFull);
  \draw[goup] (evalEval) to (pathFull);
  \draw[goup] (syncPath) to (pathFull);
  \draw[goup] (taxAdmPath) to (pathFull);
  \draw[goup] (taxSelectable) to (pathFull);
  \draw[goup] (tstTaxPath) to (pathFull);
  \draw[goup] (trashPath) to (pathFull);
  \draw[goup] (qstPageSel) to (pathFull);
  \draw[goup] (portCourses) to (pathFull);

  % ---- feeds, learning modules, news -----------------------------------------
  \draw[godown] (feedCons) to (feedPath);
  \draw[call] (userFeed) -- (feedPath);
  \draw[call] (lmPrintSel) -- (checkPrecond);
  \draw[call] (navDropdown) -- (checkPrecond);
  \draw[call] (lmPrintView) -- (checkPrecond);
  \draw[call] (determineStatus) -- (checkPrecond);
  \draw[goup] (navRender) to (navDropdown);
  \draw[call] (contentRender) -- (determineStatus);
  \draw[call] (contentRender) -- (renderPrecond);
  \draw[call] (navBottom) -- (navRender);
  \draw[call] (navTop) -- (navRender);
  \draw[call] (renderPrecond) -- (missingTop);
  \draw[godown] (renderPrecond) to (missingPage);
  \draw[call] (newsInitForm) -- (newsAddSettings);
  \draw[call] (newsSetSave) -- (newsInitForm);
  \draw[call] (newsSetShow) -- (newsInitForm);
  \draw[godown] (newsAddSettings) to (defaultVis);
  \draw[godown] (createProps) to (defaultVis);
  \draw[call] (fileCreate) -- (createProps);
  \draw[call] (frmCreate) -- (frmCreateSet);
  \draw[call] (frmCreateSet) -- (defaultVis);
  \draw[call] (newsEditForm) -- (defaultVis);
  \draw[call] (newsInitSettings) -- (defaultVis);
  \draw[call] (tlEditModal) -- (newsEditForm);
  \draw[call] (tlRenderModal) -- (tlEditModal);
  \draw[call] (tlHTML) -- (tlRenderModal);
  \draw[call] (tlShow) -- (tlHTML);
  \draw[call] (tlSave) -- (tlShow);
  \draw[call] (tlUpdate) -- (tlShow);
  \draw[call] (tlUpdateItem) -- (tlSave);
  \draw[call] (tlUpdateItem) -- (tlUpdate);
  \draw[call] (tlSave.west) .. controls ([shift={(-500,0)}]tlSave.west)
      and ([shift={(400,0)}]newsEditForm.east) .. (newsEditForm.east);
  \draw[call] (tlUpdate.west) .. controls ([shift={(-600,-70)}]tlUpdate.west)
      and ([shift={(150,-150)}]newsEditForm.south east) .. (newsEditForm.south east);
  \draw[goup] (newsEditSet) to (newsInitSettings);
  \draw[goup] (newsSaveSet) to (newsInitSettings);
  \draw[call] (pdNewsFeed) -- (newsEditSet);

  % ---- survey evaluation, taxonomies, trash ----------------------------------
  \draw[call] (recCons) -- (recItems);
  \draw[call] (skillPathStr) -- (skillPath);
  \draw[call] (evalCheck) -- (evalCancel);
  \draw[call] (evalCheck) -- (evalEval);
  \draw[call] (evalExport) -- (evalEval);
  \draw[call] (evalExport) -- (evalDetails);
  \draw[call] (evalDetails) -- (evalEval);
  \draw[call] (evalOpen) -- (evalDetails);
  \draw[call] (evalOpen.west) .. controls ([shift={(-150,-70)}]evalOpen.west)
      and ([shift={(40,-120)}]evalEval.south east) .. (evalEval.south east);
  \draw[call] (syncImport) -- (syncPath);
  \draw[call] (syncCons) -- (syncImport);
  \draw[call] (taxAdmRepo) -- (taxAdmPath);
  \draw[call] (taxSubTab) -- (taxSelectable);
  \draw[call] (taxUpdMD) -- (taxSelectable);
  \draw[call] (taxAddMD) -- (taxSelectable);
  \draw[call] (taxInitForm) -- (taxAddMD);
  \draw[call] (taxSave) -- (taxUpdMD);
  \draw[call] (taxSave) -- (taxInitForm);
  \draw[call] (taxShow) -- (taxInitForm);
  \draw[call] (taxExec) -- (taxInitForm);
  \draw[call] (tstTaxOrder) -- (tstTaxPath);
  \draw[call] (trashMulti) -- (trashPath);
  \draw[call] (qstLinkChilds) -- (qstPageSel);
  \draw[call] (portRender) -- (portCourses);
  \draw[call] (classFilter) -- (subTreeFilt);

  % ---- page component verification ---------------------------------------------
  \draw[godown] (pcvInsert) to (pcvInitForm);
  \draw[call] (pcvCreate) -- (pcvInsert);
  \draw[godown] (pcvCreate) to (pcvInitForm);
  \draw[call] (pcvCreateV) -- (pcvCreate);
  \draw[call] (pcvEdit) -- (pcvInitForm);
  \draw[call] (pcvUpdate) -- (pcvEdit);
  \draw[call] (pcvUpdate) -- (pcvInitForm);
  \draw[call] (pcvUpdate.west) .. controls ([shift={(-300,-45)}]pcvUpdate.west)
      and ([shift={(200,-45)}]pcvValid.east) .. (pcvValid.east);
  \draw[call] (pcvInitForm) -- (pcvValid);

  % ---- into ilTree::getNodeData ------------------------------------------------
  \draw[godown] (subTreeFilt) to (nodeData);
  \draw[godown] (pcvValid) to (nodeData);
  \draw[godown] (lmConfDel) to (nodeData);
  \draw[godown] (chapList) to (nodeData);
  \draw[godown] (wspCascade) to (nodeData);
  \draw[godown] (assignTests) to (nodeData);
  \draw[godown] (cloneNodes) to (nodeData);
  \draw[godown] (wspObjects) to (nodeData);
  \draw[godown] (explHeader) to (nodeData);
  \draw[godown] (delObjType) to (nodeData);
  \draw[godown] (sessExportCSV) to (nodeData);
  \draw[godown] (pskillCons) to (nodeData);
  \draw[godown] (vskillChilds) to (nodeData);
  \draw[godown] (taxDelete) to (nodeData);
  \draw[godown] (tstTaxIndex) to (nodeData);
  \draw[godown] (filtSubTree) to (nodeData);
  \draw[call] (scormTrack) -- (nodeData);
  \draw[call] (restoreSub) -- (nodeData);
  \draw[call] (matData) -- (nodeData);
  \draw[call] (ovGather) -- (nodeData);
  \draw[goup] (insAfter) to (nodeData);
  \draw[goup] (removeSys) to (nodeData);
  \draw[goup] (pasteObj) to (nodeData);
  \draw[goup] (insBefore) to (nodeData);
  \draw[goup] (favourites) to (nodeData);
  \draw[goup] (excBlog) to (nodeData);
  \draw[goup] (aggrNews) to (nodeData);
  \draw[goup] (lmComplete) to (nodeData);
  \draw[goup] (fixTree) to (nodeData);
  \draw[goup] (checkStruct) to (nodeData);
  \draw[goup] (flInitEdit) to (nodeData);
  \draw[goup] (objMaterials) to (nodeData);

  % ---- callers of column 3, middle part ----------------------------------------
  \draw[goup] (pasteMulti) to (cloneNodes);
  \draw[godown] (pasteMulti) to (nodeData);
  \draw[call] (lsoExec) -- (pasteMulti);
  \draw[call] (lmObjConfDel) -- (lmConfDel);
  \draw[call] (helpChapters) -- (chapList);
  \draw[call] (helpCons) -- (helpChapters);
  \draw[call] (exportIDCons) -- (chapList);
  \draw[call] (finalTest) -- (assignTests);
  \draw[call] (selfAssign) -- (assignTests);
  \draw[call] (updFinalTest) -- (finalTest);
  \draw[call] (updSelfLimits) -- (finalTest);
  \draw[call] (updSelfAssign) -- (finalTest);
  \draw[call] (updSelfAssign) -- (selfAssign);
  \draw[call] (updMaterial) -- (selfAssign);
  \draw[goup] (updMaterial) to (finalTest);
  \draw[call] (scosPossible) -- (scormTrack);
  \draw[call] (scormTrack2) -- (scormTrack);
  \draw[call] (scosTable) -- (scosPossible);
  \draw[call] (restoreUnbound) -- (restoreSub);
  \draw[call] (validate) -- (restoreUnbound);
  \draw[call] (typesAvail) -- (matData);
  \draw[call] (matFilter) -- (typesAvail);
  \draw[call] (matCons) -- (matFilter);
  \draw[call] (ovCons) -- (ovGather);
  \draw[call] (insAfter.north east) -- (newAfter.south west);
  \draw[call] ([xshift=7pt]newAfter.south west) -- (insAfter.east);
  \draw[call] (orguConfDel) -- (removeSys);
  \draw[call] (talkConfDel) -- (removeSys);
  \draw[call] (trashRemove) -- (removeSys);
  \draw[call] (orguExec) -- (orguConfDel);
  \draw[godown] (orguExec) to (orguPaste);
  \draw[call] (orguPaste) -- (pasteObj);
  \draw[call] (insBefore.south east) -- (newBefore.north west);
  \draw[call] (newBefore.west) -- (insBefore.south);
  \draw[godown] (classSubItems) to (filtChilds);

  % ---- page component file list ------------------------------------------------
  \draw[godown] (flEditProps) to (flInitEdit);
  \draw[godown] (flSaveProps) to (flInitEdit);
  \draw[godown] (flCreateItem) to (flInitEdit);
  \draw[call] (flSelect) -- (flInitEdit);
  \draw[call] (flInsNewItem) -- (flCreateItem);
  \draw[call] ([yshift=2.5pt]flInsNewItem.east) -- ([yshift=2.5pt]flNewItem.west);
  \draw[call] ([yshift=-2.5pt]flNewItem.west) -- ([yshift=-2.5pt]flInsNewItem.east);
  \draw[goup] (flInsNewItem) to (nodeData);
  \draw[call] (flNewItem.south west) .. controls ([shift={(-150,-60)}]flNewItem.south west)
      and ([shift={(150,150)}]flInitEdit.north east) .. (flInitEdit.north east);
  \draw[call] (flInsert) -- (flSelect);
  \draw[call] (flInsert.north) .. controls ([shift={(-40,60)}]flInsert.north)
      and ([shift={(100,90)}]flInitEdit.north east) .. (flInitEdit.north east);
  \draw[call] (flCreate) -- (flInsert);
  \draw[call] (flCreate) -- (flInitEdit);
  \draw[call] (matAssign) -- (objMaterials);

  % ---- news items, tagging, explorer, trash ----------------------------------
  \draw[call] (selFilter) -- (selRender);
  \draw[call] (selInsert) -- (selRender);
  \draw[goup] (newsForRef) to (aggrNews);
  \draw[call] (aggrChild.east) -- (newsForRef.north west);
  \draw[call] (newsForRef.west) -- (aggrChild.south east);
  \draw[call] (newsContTable) -- (newsForRef);
  \draw[call] (editNews) -- (newsContTable);
  \draw[call] (cancelUpd) -- (editNews);
  \draw[call] (cancelUpdItem) -- (editNews);
  \draw[call] (confDelNews) -- (editNews);
  \draw[call] (delNews) -- (editNews);
  \draw[call] (cancelSave) -- (editNews);
  \draw[call] (tagRender) -- (tagSubTree);
  \draw[call] (tagImport) -- (tagSubTree);
  \draw[call] (explRender) -- (explTree);
  \draw[call] (explHTML) -- (explRender);
  \draw[call] (trashConfirm) -- (collectDel);
  \draw[goup] (trashConfirm) to (trashMulti);

  % ---- employee talks ------------------------------------------------------------
  \draw[call] (subItems) -- (initSub);
  \draw[call] (pendingSeries) -- (subItems);
  \draw[call] (pendingDates) -- (pendingSeries);
  \draw[call] (editSeries) -- (pendingDates);
  \draw[call] (updSeries) -- (pendingSeries);
  \draw[call] (seriesCmd) -- (editSeries);
  \draw[call] (seriesCmd) -- (updSeries);
  \draw[call] (talkExec) -- (seriesCmd);

  % ---- into ilTree::getChilds ----------------------------------------------------
  \draw[godown] (selRender) to (getChilds);
  \draw[godown] (aggrChild) to (getChilds);
  \draw[godown] (tagSubTree) to (getChilds);
  \draw[godown] (explTree) to (getChilds);
  \draw[godown] (initSub) to (getChilds);
  \draw[godown] (collectDel) to (getChilds);
  \draw[call] (linkList) -- (getChilds);
  \draw[call] (saveChildsOrder) -- (getChilds);
  \draw[call] (wfolderItems) -- (getChilds);
  \draw[goup] (wcontItems) to (getChilds);
  \draw[goup] (xmlSubitems) to (getChilds);
  \draw[goup] (adminItems) to (getChilds);
  \draw[goup] (exportIDs) to (getChilds);
  \draw[goup] (maxOrder) to (getChilds);
  \draw[goup] (filtChilds) to (getChilds);
  \draw[goup] (wfolderGet) to (getChilds);
  \draw[goup] (deleteRec) to (getChilds);
  \draw[goup] (checksumCalc) to (getChilds);
  \draw[goup] (recurseFolder) to (getChilds);
  \draw[goup] (trashTable) to (savedData);
  \draw[call] (insertClip) -- (saveChildsOrder);
  \draw[call] (wfolderCons) -- (wfolderItems);
  \draw[call] (wcontRender) -- (wcontItems);
  \draw[call] (xmlWrite) -- (xmlSubitems);
  \draw[call] (saveExportIDs) -- (exportIDs);
  \draw[call] (structDelete) -- (deleteRec);
  \draw[call] (checksumRun) -- (checksumCalc);
  \draw[call] (collectRun) -- (recurseFolder);
  \end{pgfonlayer}

\end{tikzpicture}
\end{document}
